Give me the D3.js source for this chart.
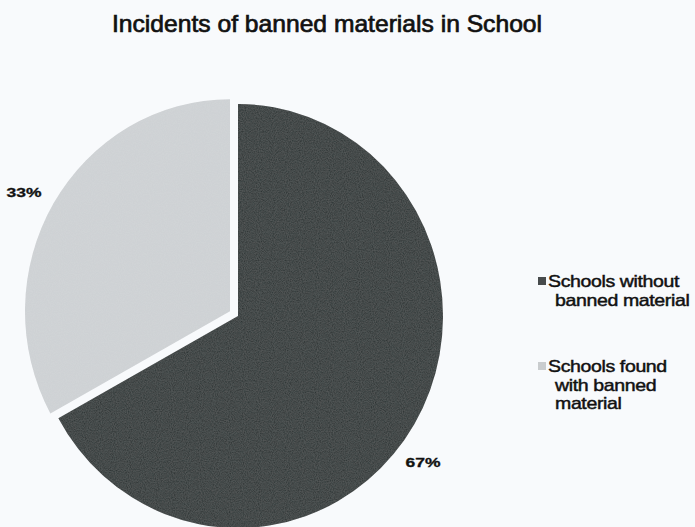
<!DOCTYPE html>
<html>
<head>
<meta charset="utf-8">
<script src="https://cdn.jsdelivr.net/npm/d3@7"></script>
<style>
  html, body { margin: 0; padding: 0; background: #f8fafc; }
  svg { display: block; }
</style>
</head>
<body>
<svg id="chart" width="695" height="527"></svg>
<script>
const title = "Incidents of banned materials in School";
const categories = ["Schools without banned material", "Schools found with banned material"];
const legendLines = [["Schools without", "banned material"], ["Schools found", "with banned", "material"]];
const values = [67, 33];
const labels = ["67%", "33%"];
const colors = ["#2c3131", "#d2d5d8"];
const exploded = [false, true];

const svg = d3.select("#chart");
svg.append("rect").attr("width", 695).attr("height", 527).attr("fill", "#f8fafc");

// grain filter to mimic the scan
const defs = svg.append("defs");
const f = defs.append("filter").attr("id", "grain").attr("x", 0).attr("y", 0).attr("width", 1).attr("height", 1);
f.append("feTurbulence").attr("type", "fractalNoise").attr("baseFrequency", 0.9).attr("numOctaves", 2).attr("seed", 3).attr("result", "n");
f.append("feColorMatrix").attr("in", "n").attr("type", "matrix")
  .attr("values", "0 0 0 0 0.45  0 0 0 0 0.47  0 0 0 0 0.47  0 0 0 0.18 0").attr("result", "g");
f.append("feComposite").attr("in", "g").attr("in2", "SourceGraphic").attr("operator", "in").attr("result", "gc");
f.append("feMerge").selectAll("feMergeNode").data(["SourceGraphic", "gc"]).enter()
  .append("feMergeNode").attr("in", d => d);

svg.append("text")
  .attr("x", 327).attr("y", 32)
  .attr("text-anchor", "middle")
  .attr("font-family", "Liberation Sans, Arial, sans-serif")
  .attr("font-size", 24)
  .attr("fill", "#111")
  .attr("stroke", "#111").attr("stroke-width", 0.7)
  .attr("textLength", 430).attr("lengthAdjust", "spacingAndGlyphs")
  .text(title);

const cx = 238, cy = 316, ry = 212, rx = 205;
const pie = d3.pie().sort(null).value(d => d)(values);
const arc = d3.arc().innerRadius(0).outerRadius(ry);
const explode = 9.3;

const g = svg.append("g").attr("transform", `translate(${cx},${cy}) scale(${rx / ry},1)`);
g.selectAll("path").data(pie).enter().append("path")
  .attr("d", arc)
  .attr("fill", (d, i) => colors[i])
  .attr("filter", "url(#grain)")
  .attr("transform", (d, i) => {
    if (!exploded[i]) return null;
    const a = (d.startAngle + d.endAngle) / 2;
    return `translate(${Math.sin(a) * explode * ry / rx},${-Math.cos(a) * explode})`;
  });

// percentage labels
const labelPos = [[423, 467], [24, 197]];
labels.forEach((t, i) => {
  svg.append("text")
    .attr("x", labelPos[i][0]).attr("y", labelPos[i][1])
    .attr("text-anchor", "middle")
    .attr("font-family", "Liberation Sans, Arial, sans-serif")
    .attr("font-weight", "bold")
    .attr("font-size", 12)
    .attr("fill", "#111")
    .attr("stroke", "#111").attr("stroke-width", 0.3)
    .attr("textLength", 35).attr("lengthAdjust", "spacingAndGlyphs")
    .text(t);
});

// legend
const legendY = [287, 372];
const lg = svg.append("g");
categories.forEach((c, i) => {
  lg.append("rect")
    .attr("x", 538).attr("y", legendY[i] - 10)
    .attr("width", 8).attr("height", 8)
    .attr("fill", i === 0 ? "#474b4c" : "#c9ccce");
  legendLines[i].forEach((ln, j) => {
    const x0 = j === 0 ? 548 : 555;
    lg.append("text")
      .attr("transform", `translate(${x0},${legendY[i] + j * 18.5}) scale(1.22,1)`)
      .attr("font-family", "Liberation Sans, Arial, sans-serif")
      .attr("font-size", 16)
      .attr("letter-spacing", -0.3)
      .attr("fill", "#111")
      .attr("stroke", "#111").attr("stroke-width", 0.45)
      .text(ln);
  });
});
</script>
</body>
</html>
